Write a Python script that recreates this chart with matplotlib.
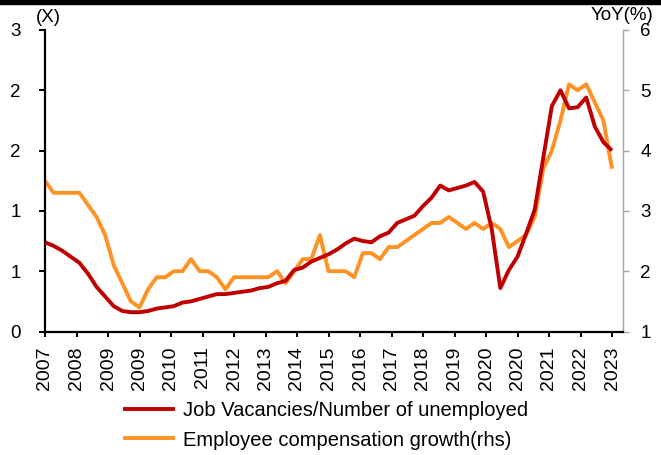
import numpy as np
import matplotlib
matplotlib.use('Agg')
import matplotlib.pyplot as plt
from matplotlib.patches import Rectangle

plt.rcParams['font.family'] = ['Liberation Sans', 'DejaVu Sans']

# quarterly data, 2007Q1 .. 2023Q3
quarters = [f'{y}Q{q}' for y in range(2007, 2024) for q in range(1, 5)][:67]

vacancy_ratio = [0.74, 0.71, 0.67, 0.62, 0.57, 0.48, 0.37, 0.29, 0.21, 0.17,
                 0.16, 0.16, 0.17, 0.19, 0.20, 0.21, 0.24, 0.25, 0.27, 0.29,
                 0.31, 0.31, 0.32, 0.33, 0.34, 0.36, 0.37, 0.40, 0.42, 0.51,
                 0.53, 0.58, 0.61, 0.64, 0.68, 0.73, 0.77, 0.75, 0.74, 0.79,
                 0.82, 0.90, 0.93, 0.96, 1.04, 1.11, 1.21, 1.17, 1.19, 1.21,
                 1.24, 1.16, 0.85, 0.36, 0.51, 0.62, 0.81, 1.01, 1.44, 1.87,
                 2.00, 1.85, 1.86, 1.94, 1.70, 1.57, 1.50]

comp_growth = [3.5, 3.3, 3.3, 3.3, 3.3, 3.1, 2.9, 2.6, 2.1, 1.8,
               1.5, 1.4, 1.7, 1.9, 1.9, 2.0, 2.0, 2.2, 2.0, 2.0,
               1.9, 1.7, 1.9, 1.9, 1.9, 1.9, 1.9, 2.0, 1.8, 2.0,
               2.2, 2.2, 2.6, 2.0, 2.0, 2.0, 1.9, 2.3, 2.3, 2.2,
               2.4, 2.4, 2.5, 2.6, 2.7, 2.8, 2.8, 2.9, 2.8, 2.7,
               2.8, 2.7, 2.8, 2.7, 2.4, 2.5, 2.6, 2.9, 3.7, 4.0,
               4.5, 5.1, 5.0, 5.1, 4.8, 4.5, 3.7]

x_labels = ['2007', '2008', '2009', '2009', '2010', '2011', '2012', '2013', '2014', '2015',
            '2016', '2017', '2018', '2019', '2020', '2020', '2021', '2022', '2023']
left_ticks = [0, 0.5, 1.0, 1.5, 2.0, 2.5]
left_labels = ['0', '1', '1', '2', '2', '3']
right_ticks = [1, 2, 3, 4, 5, 6]

# month index from Jan 2007 at quarter end
months = [(int(q[:4]) - 2007) * 12 + int(q[-1]) * 3 - 1 for q in quarters]
tick_months = np.arange(months[0], months[0] + 11 * len(x_labels), 11)

fig = plt.figure(figsize=(6.61, 4.55), dpi=100)
ax = fig.add_axes([45 / 661, 1 - 331.5 / 455, 578 / 661, 301.5 / 455])
ax2 = ax.twinx()

red = '#C00000'
orange = '#FF9224'
l1, = ax.plot(months, vacancy_ratio, color=red, lw=2.8, solid_capstyle='butt', zorder=3)
l2, = ax2.plot(months, comp_growth, color=orange, lw=2.8, solid_capstyle='butt', zorder=2)
ax.set_zorder(ax2.get_zorder() + 1)
ax.patch.set_visible(False)

ax.set_xlim(months[0], months[0] + 578 / (31.5 / 11))
ax.set_ylim(0, 2.5)
ax2.set_ylim(1, 6)

ax.set_xticks(tick_months)
ax.set_xticklabels(x_labels, rotation=90)
ax.set_yticks(left_ticks)
ax.set_yticklabels(left_labels)
ax2.set_yticks(right_ticks)

for s in ['top']:
    ax.spines[s].set_visible(False)
    ax2.spines[s].set_visible(False)
ax.spines['right'].set_visible(False)
ax2.spines['left'].set_visible(False)
ax2.spines['bottom'].set_visible(False)
ax.spines['left'].set_linewidth(1.6)
ax.spines['bottom'].set_linewidth(1.6)
ax2.spines['right'].set_color('#A6A6A6')
ax2.spines['right'].set_linewidth(1.0)

ax.tick_params(axis='y', direction='out', length=4.3, width=1.4, pad=13, labelsize=13.5, colors='black')
ax.tick_params(axis='x', direction='out', length=3.8, width=1.4, pad=7, labelsize=14)
ax2.tick_params(axis='y', direction='out', length=4, width=1.0, color='#A6A6A6',
                labelcolor='black', pad=8.5, labelsize=13.5)

fig.text(48 / 661, 1 - 18 / 455, '(X)', fontsize=13.5, ha='center', va='center')
fig.text(622 / 661, 1 - 16 / 455, 'YoY(%)', fontsize=13.5, ha='center', va='center')

fig.patches.append(Rectangle((0, 1 - 4 / 455), 1, 4 / 455, transform=fig.transFigure,
                             color='black', zorder=5))

fig.legend([l1, l2], ['Job Vacancies/Number of unemployed', 'Employee compensation growth(rhs)'],
           loc='center left', bbox_to_anchor=(123 / 661, 1 - 425.5 / 455), frameon=False,
           fontsize=14.5, handlelength=2.6, handletextpad=0.4, labelspacing=0.5,
           borderpad=0, borderaxespad=0)

fig.savefig('out.png', dpi=100)
